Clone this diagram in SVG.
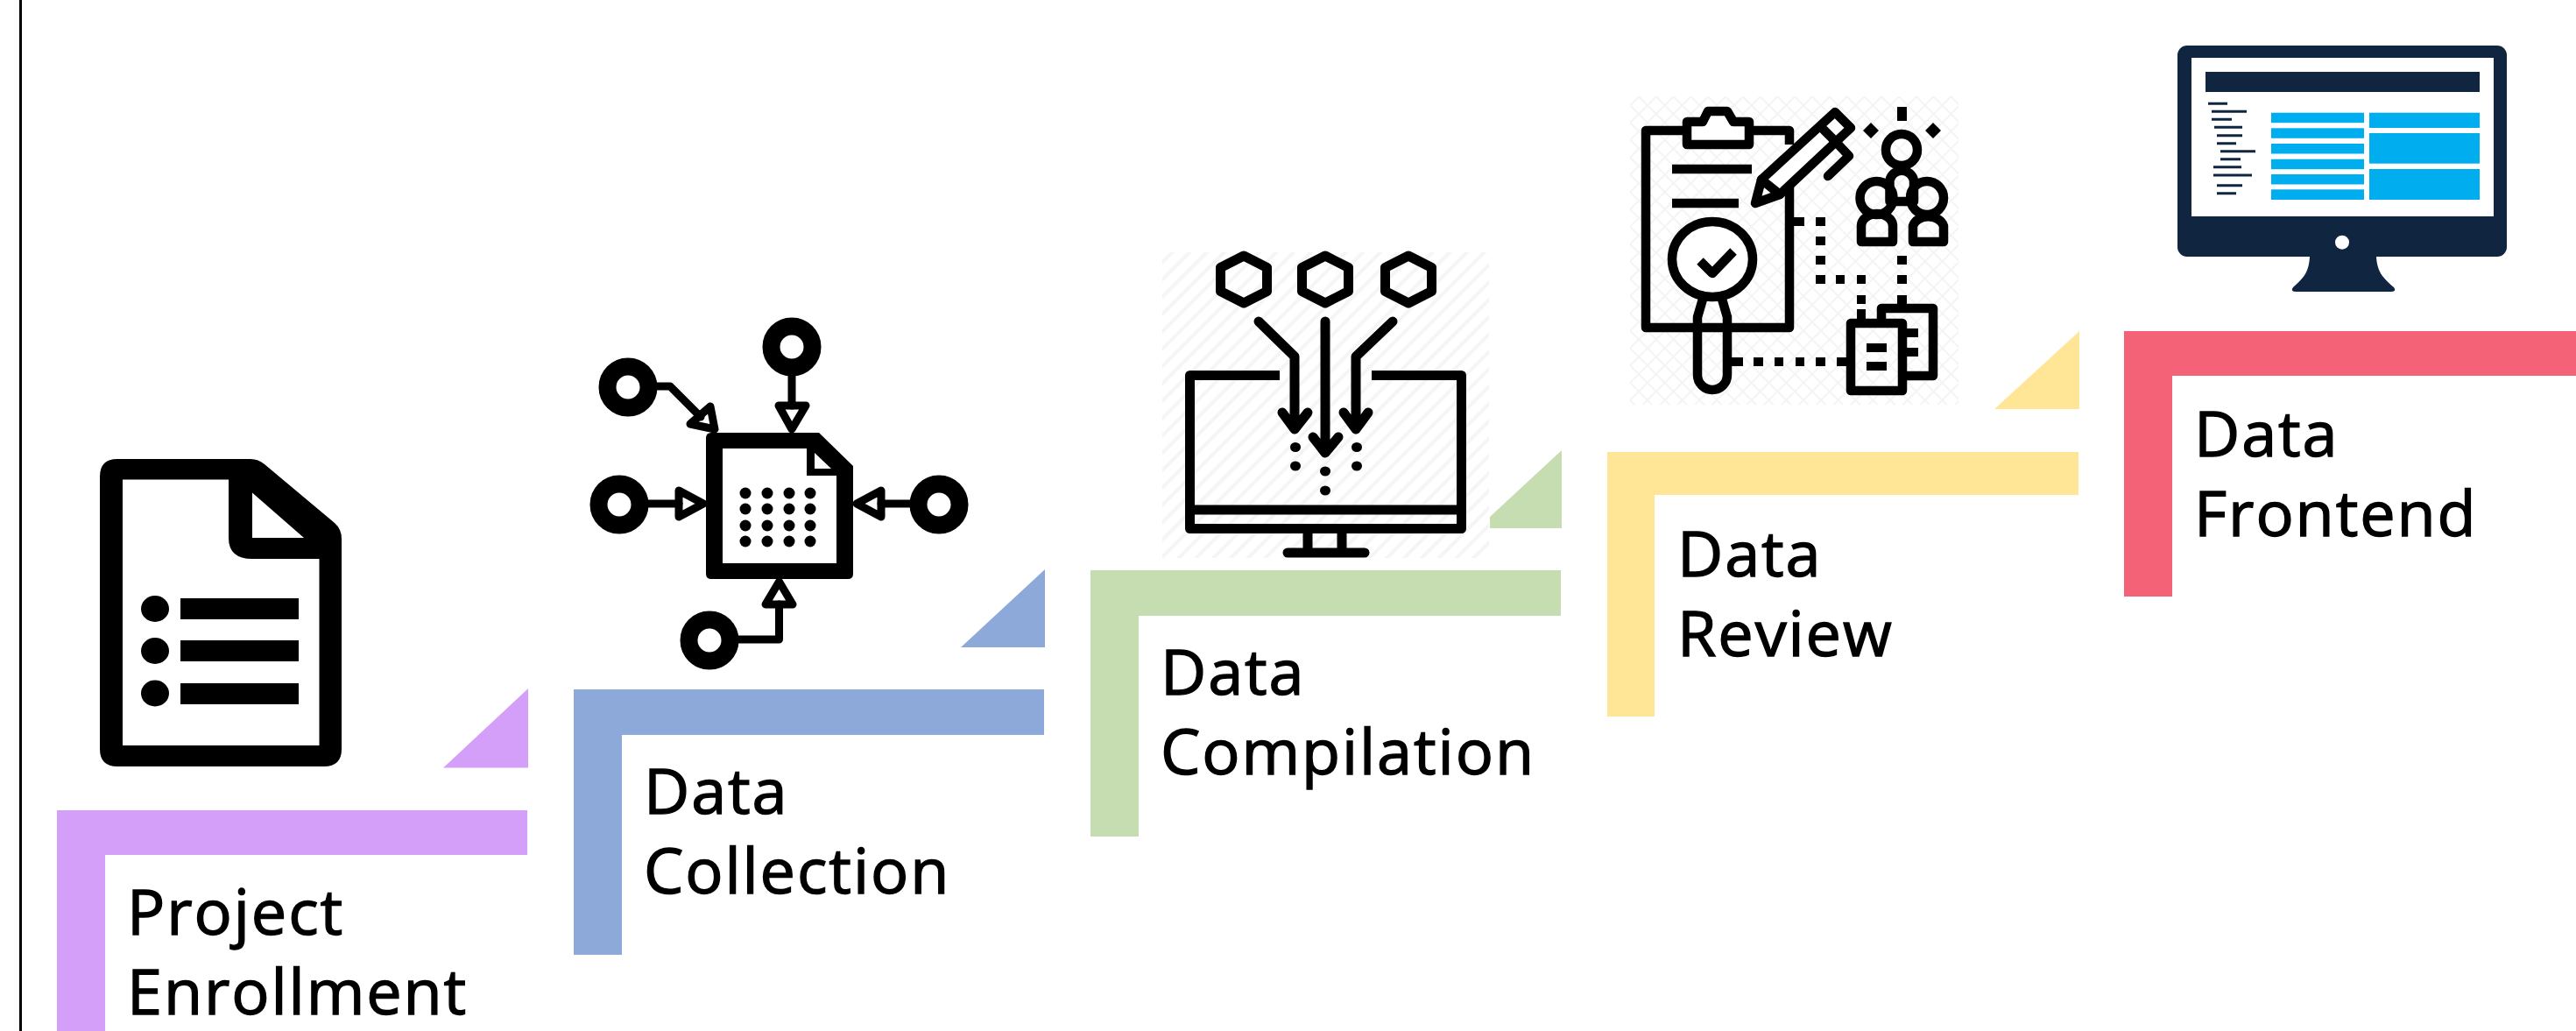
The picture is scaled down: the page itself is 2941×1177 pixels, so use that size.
<svg xmlns="http://www.w3.org/2000/svg" width="2941" height="1177" viewBox="0 0 2941 1177">
<style>
.lbl{font-family:"Open Sans","Noto Sans",sans-serif;font-size:72px;letter-spacing:1.9px;fill:#000;stroke:#000;stroke-width:1.4}
.k{fill:none;stroke:#000;stroke-linejoin:round;stroke-linecap:round}
.f{fill:#000}
.w{fill:#fff}
.p{fill:#D49FF8}.b{fill:#8CA9DA}.g{fill:#C5DDB0}.y{fill:#FFE697}.r{fill:#F46277}
.n{fill:#10253F}.c{fill:#00ADEF}
</style>
<defs>
<pattern id="h1" width="14" height="14" patternUnits="userSpaceOnUse" patternTransform="rotate(45)"><rect width="14" height="14" fill="#fff"/><rect width="4" height="14" fill="#f5f5f5"/></pattern>
<pattern id="h2" width="14" height="14" patternUnits="userSpaceOnUse" patternTransform="rotate(45)"><rect width="14" height="14" fill="#fff"/><rect width="14" height="2" fill="#f4f4f4"/><rect width="2" height="14" fill="#f4f4f4"/></pattern>
</defs>
<rect x="0" y="0" width="2941" height="1177" fill="#fff"/>
<rect x="22" y="0" width="3" height="1177" fill="#000"/>

<g id="step-project-enrollment">
<path class="p" d="M65 925H602V976H120V1177H65Z"/>
<path class="p" d="M506 876.500H603V786Z"/>
<g id="icon-form">
<path class="f" fill-rule="evenodd" d="M134 524H286Q295 524 302 530L382 597Q390 604 390 615V855Q390 875 370 875H134Q114 875 114 855V544Q114 524 134 524ZM140 547.500V851H364.500V638H288Q261 638 261 614V547.500ZM288 562.600V614H347Z"/>
<ellipse class="f" cx="177" cy="695" rx="16" ry="15"/><ellipse class="f" cx="177" cy="743" rx="16" ry="15"/><ellipse class="f" cx="177" cy="791.500" rx="16" ry="15"/>
<rect class="f" x="206" y="683" width="135" height="24"/><rect class="f" x="206" y="731" width="135" height="24"/><rect class="f" x="206" y="780" width="135" height="24"/>
</g>
<text class="lbl" x="145" y="1067">Project</text><text class="lbl" x="145" y="1157.500">Enrollment</text>
</g>

<g id="step-data-collection">
<path class="b" d="M655 787H1192V839H710V1090H655Z"/>
<path class="b" d="M1097 739H1193V650Z"/>
<g id="icon-collection">
<path class="f" fill-rule="evenodd" d="M812 494H935L974 532V655Q974 661 968 661H812Q806 661 806 655V500Q806 494 812 494ZM825 512V643H955V543H921V512ZM930 517V535H949Z"/>
<g class="f"><circle cx="851" cy="563" r="6.500"/><circle cx="876" cy="563" r="6.500"/><circle cx="901" cy="563" r="6.500"/><circle cx="925" cy="563" r="6.500"/><circle cx="851" cy="581" r="6.500"/><circle cx="876" cy="581" r="6.500"/><circle cx="901" cy="581" r="6.500"/><circle cx="925" cy="581" r="6.500"/><circle cx="851" cy="600" r="6.500"/><circle cx="876" cy="600" r="6.500"/><circle cx="901" cy="600" r="6.500"/><circle cx="925" cy="600" r="6.500"/><circle cx="851" cy="618" r="6.500"/><circle cx="876" cy="618" r="6.500"/><circle cx="901" cy="618" r="6.500"/><circle cx="925" cy="618" r="6.500"/></g>
<g class="k" stroke-width="20"><circle cx="904" cy="396" r="23.500"/><circle cx="717" cy="442" r="23.500"/><circle cx="707" cy="576" r="23.500"/><circle cx="1072" cy="576" r="23.500"/><circle cx="810" cy="731" r="23.500"/></g>
<g class="k" stroke-width="9">
<path d="M904 426V463"/><path d="M889 463H920L904 490Z"/>
<path d="M739 575H775"/><path d="M775 560V590L803 575Z"/>
<path d="M1040 575H1006"/><path d="M1006 560V590L978 575Z"/>
<path d="M842 730H889.500V690"/><path d="M874 690H905L889.500 664Z"/>
<path d="M750 441H765L800 476"/><path d="M811 464L788 484L816 490Z"/>
</g>
</g>
<text class="lbl" x="735" y="929">Data</text><text class="lbl" x="735" y="1019.500">Collection</text>
</g>

<g id="step-data-compilation">
<path class="g" d="M1245 651H1782V703H1300V955H1245Z"/>
<path class="g" d="M1701 603H1783V514L1701 590Z"/>
<g id="icon-compilation">
<rect x="1327" y="288" width="373" height="349" fill="url(#h1)"/>
<g class="k" stroke-width="11">
<path d="M1420 292L1446.500 305.500V332.500L1420 346L1393.500 332.500V305.500Z"/>
<path d="M1513 292L1539.500 305.500V332.500L1513 346L1486.500 332.500V305.500Z"/>
<path d="M1608 292L1634.500 305.500V332.500L1608 346L1581.500 332.500V305.500Z"/>
<path d="M1513 367V514M1499 499L1513 517L1528 499"/>
<path d="M1437 367L1478 407V488M1464 471L1478 490L1493 471"/>
<path d="M1590 367L1548 407V488M1534 471L1548 490L1562 471"/>
<path stroke-linecap="butt" d="M1461 428.500H1358.500V603.500H1668.500V428.500H1566"/>
<path stroke-linecap="butt" d="M1358.500 582H1668.500M1493 609V631M1532 609V631"/>
<path d="M1470 631H1558"/>
</g>
<g class="f"><ellipse cx="1479" cy="510.500" rx="6" ry="5.500"/><ellipse cx="1549" cy="510.500" rx="6" ry="5.500"/><ellipse cx="1479" cy="532" rx="6" ry="5.500"/><ellipse cx="1549" cy="532" rx="6" ry="5.500"/><ellipse cx="1513" cy="538" rx="6" ry="5.500"/><ellipse cx="1513" cy="560" rx="6" ry="5.500"/></g>
</g>
<text class="lbl" x="1325" y="793">Data</text><text class="lbl" x="1325" y="883.500">Compilation</text>
</g>

<g id="step-data-review">
<path class="y" d="M1835 516H2373V565H1889V818H1835Z"/>
<path class="y" d="M2277 467H2374V378Z"/>
<g id="icon-review">
<rect x="1861" y="110" width="375" height="352" fill="url(#h2)"/>
<g class="k" stroke-width="10.500">
<path stroke-linecap="butt" d="M2043 165V149H1879V374H2043V210"/>
<path fill="#fff" d="M1926 165V139H1944L1950 127H1972L1979 139H1997V165Z"/>
<path stroke-linecap="butt" d="M1909 193H2000M1909 232H1985"/>
<ellipse cx="1955" cy="296" rx="46" ry="43" fill="#fff"/>
<path stroke-linecap="butt" d="M1979 287L1955 312L1941 298"/>
<path d="M1945 338L1938 362V428A17 17 0 0 0 1972 428V362L1965 338"/>
<path fill="#fff" d="M2004 232L2011 205L2095 128L2113 146L2032 222Z"/>
<path d="M2011 205L2032 222M2078 144L2096 162M2094 160L2111 178L2087 201"/>
<circle cx="2171" cy="171" r="18"/>
<path d="M2157.500 230V206A14 14 0 0 1 2185 206V230H2157.500Z"/>
<circle cx="2142.500" cy="226" r="19"/><circle cx="2200" cy="226" r="19"/>
<path d="M2125 276V258A18 14 0 0 1 2161 258V276Z"/>
<path d="M2184 276V258A18 14 0 0 1 2219 258V276Z"/>
<rect x="2113" y="369" width="59" height="77"/>
<path stroke-linecap="butt" d="M2148 364V352H2207V429H2172"/>
</g>
<g class="f">
<rect x="2166" y="122" width="11" height="16"/>
<path d="M2136 140L2145 149L2136 158L2127 149ZM2207 140L2216 149L2207 158L2198 149Z"/>
<rect x="2048" y="248" width="12" height="10"/><rect x="2073" y="248" width="11" height="10"/><rect x="2073" y="270" width="11" height="10"/><rect x="2073" y="292" width="11" height="10"/><rect x="2073" y="314" width="11" height="10"/><rect x="2096" y="314" width="10" height="10"/><rect x="2120" y="314" width="10" height="10"/><rect x="2120" y="337" width="10" height="10"/><rect x="2120" y="353" width="10" height="12"/>
<rect x="2166" y="292" width="11" height="10"/><rect x="2166" y="314" width="11" height="10"/><rect x="2166" y="337" width="11" height="11"/>
<rect x="1977" y="408" width="13" height="10"/><rect x="2002" y="408" width="11" height="10"/><rect x="2026" y="408" width="10" height="10"/><rect x="2050" y="408" width="10" height="10"/><rect x="2073" y="408" width="11" height="10"/><rect x="2097" y="408" width="12" height="10"/>
<rect x="2177" y="375" width="13" height="10"/><rect x="2177" y="397" width="13" height="10"/>
<rect x="2131" y="392" width="23" height="10"/><rect x="2131" y="413" width="23" height="10"/>
</g>
</g>
<text class="lbl" x="1915" y="658">Data</text><text class="lbl" x="1915" y="748.500">Review</text>
</g>

<g id="step-data-frontend">
<path class="r" d="M2425 378H2941V429H2480V681H2425Z"/>
<g id="icon-frontend">
<rect class="n" x="2486" y="52" width="376" height="241" rx="11"/>
<rect class="w" x="2502" y="66" width="345" height="181"/>
<rect class="n" x="2518" y="82" width="313" height="23"/>
<path class="n" d="M2637 293H2713C2714 312 2722 318 2733 328Q2737 333 2729 333H2622Q2614 333 2618 328C2629 318 2636 312 2637 293Z"/>
<circle class="w" cx="2674" cy="276.700" r="8"/>
<path stroke="#10253F" stroke-width="3" fill="none" d="M2521 118.300H2543M2525 127.300H2565M2525 136.300H2548M2528 145.300H2560M2531 154.700H2560M2531 163.700H2553M2535 172.700H2575M2535 181.700H2558M2527 190.700H2559M2527 200H2571M2531 211.700H2560M2531 220.700H2553"/>
<g class="c"><rect x="2593" y="128.700" width="106" height="11.500"/><rect x="2593" y="146.300" width="106" height="11.500"/><rect x="2593" y="164" width="106" height="11.500"/><rect x="2593" y="181.700" width="106" height="11.500"/><rect x="2593" y="199" width="106" height="11.500"/><rect x="2593" y="216.300" width="106" height="11.700"/><rect x="2705" y="128.700" width="126" height="17.300"/><rect x="2705" y="152" width="126" height="34.700"/><rect x="2705" y="193" width="126" height="35"/></g>
</g>
<text class="lbl" x="2505" y="521">Data</text><text class="lbl" x="2505" y="611.500">Frontend</text>
</g>
<g id="connectors"></g>
</svg>
